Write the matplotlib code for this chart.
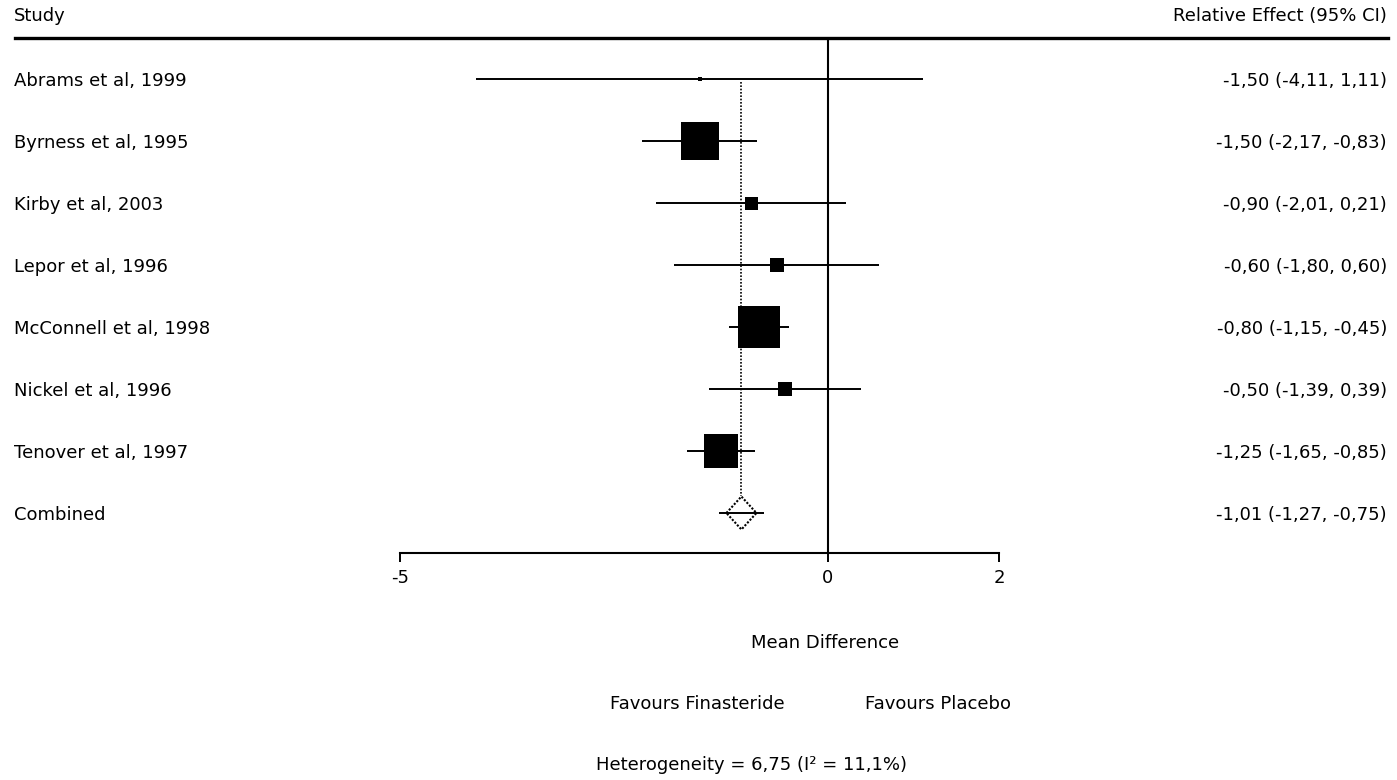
import matplotlib.pyplot as plt
import matplotlib.transforms as mtransforms
from matplotlib.patches import Polygon
from matplotlib.lines import Line2D

plt.rcParams['font.family'] = ['DejaVu Sans']
plt.rcParams['axes.unicode_minus'] = False

# data
studies = ['Abrams et al, 1999', 'Byrness et al, 1995', 'Kirby et al, 2003',
           'Lepor et al, 1996', 'McConnell et al, 1998', 'Nickel et al, 1996',
           'Tenover et al, 1997']
effect = [-1.50, -1.50, -0.90, -0.60, -0.80, -0.50, -1.25]
lower = [-4.11, -2.17, -2.01, -1.80, -1.15, -1.39, -1.65]
upper = [1.11, -0.83, 0.21, 0.60, -0.45, 0.39, -0.85]
box_weight = [5, 38, 13, 14, 42, 14, 34]   # box side, px (study weight)
comb_label = 'Combined'
comb_effect = -1.01
comb_lower = -1.27
comb_upper = -0.75
x_ticks = [-5, 0, 2]
x_label = 'Mean Difference'
left_note = 'Favours Finasteride'
right_note = 'Favours Placebo'
het_text = 'Heterogeneity = 6,75 (I\u00b2 = 11,1%)'


def fmt(v):
    return f'{v:.2f}'.replace('.', ',')


W, H = 1397, 780
FS = 13
fig = plt.figure(figsize=(W / 100, H / 100), dpi=100)
fig.patch.set_facecolor('white')

# plotting area: x from -5 to 2, top at header rule, bottom = x axis
ax = fig.add_axes([400 / W, (H - 553) / H, 599 / W, (553 - 38) / H])
row0, step = 79, 62
ax.set_xlim(-5, 2)
ax.set_ylim((553 - row0) / step, (38 - row0) / step)
for s in ['top', 'left', 'right']:
    ax.spines[s].set_visible(False)
ax.spines['bottom'].set_linewidth(1.5)
ax.set_yticks([])
ax.set_xticks(x_ticks)
ax.set_xticklabels([str(t) for t in x_ticks])
ax.tick_params(axis='x', direction='out', length=6.5, width=1.4, pad=5,
               labelsize=FS)

n = len(studies)
rows = list(range(n))
crow = n

ax.axvline(0, color='black', lw=1.5, zorder=2)

# study lines and boxes
ax.hlines(rows, lower, upper, color='black', lw=1.4, zorder=3)
for r, e, b in zip(rows, effect, box_weight):
    ax.plot(e, r, marker='s', ms=b * 0.72, color='black', mew=0, zorder=4)

# combined estimate
hw = 15 / 85.57
hh = 16.5 / step
ax.plot([comb_effect, comb_effect], [0.05, crow - hh], color='black', lw=1.2,
        ls=(0, (1, 1)), zorder=1)
ax.hlines(crow, comb_lower, comb_upper, color='black', lw=1.4, zorder=3)
diamond = Polygon([(comb_effect - hw, crow), (comb_effect, crow - hh),
                   (comb_effect + hw, crow), (comb_effect, crow + hh)],
                  closed=True, fill=False, edgecolor='black', lw=1.5,
                  ls=(0, (1, 0.8)), zorder=4)
ax.add_patch(diamond)

# left / right text columns
tr = mtransforms.blended_transform_factory(fig.transFigure, ax.transData)
labels = studies + [comb_label]
cis = [f'{fmt(e)} ({fmt(l)}, {fmt(u)})' for e, l, u in zip(effect, lower, upper)]
cis.append(f'{fmt(comb_effect)} ({fmt(comb_lower)}, {fmt(comb_upper)})')
for r, lab, ci in zip(rows + [crow], labels, cis):
    ax.text(14 / W, r + 0.03, lab, transform=tr, ha='left', va='center',
            fontsize=FS, clip_on=False)
    ax.text(1387 / W, r + 0.03, ci, transform=tr, ha='right', va='center',
            fontsize=FS, clip_on=False)

# header
fig.text(14 / W, 1 - 16 / H, 'Study', ha='left', va='center', fontsize=FS)
fig.text(1387 / W, 1 - 16 / H, 'Relative Effect (95% CI)', ha='right',
         va='center', fontsize=FS)
fig.add_artist(Line2D([15 / W, 1388 / W], [1 - 38 / H, 1 - 38 / H],
                      color='black', lw=2.4, transform=fig.transFigure))

# notes under the axis
trb = mtransforms.blended_transform_factory(ax.transData, fig.transFigure)
px = 1 / 85.57
ax.text(-3 * px, 1 - 643 / H, x_label, transform=trb, ha='center',
        va='center', fontsize=FS, clip_on=False)
ax.text(-43 * px, 1 - 704 / H, left_note, transform=trb, ha='right',
        va='center', fontsize=FS, clip_on=False)
ax.text(37 * px, 1 - 704 / H, right_note, transform=trb, ha='left',
        va='center', fontsize=FS, clip_on=False)
ax.text(-76 * px, 1 - 765 / H, het_text, transform=trb, ha='center',
        va='center', fontsize=FS, clip_on=False)

fig.savefig('out.png', dpi=100)
